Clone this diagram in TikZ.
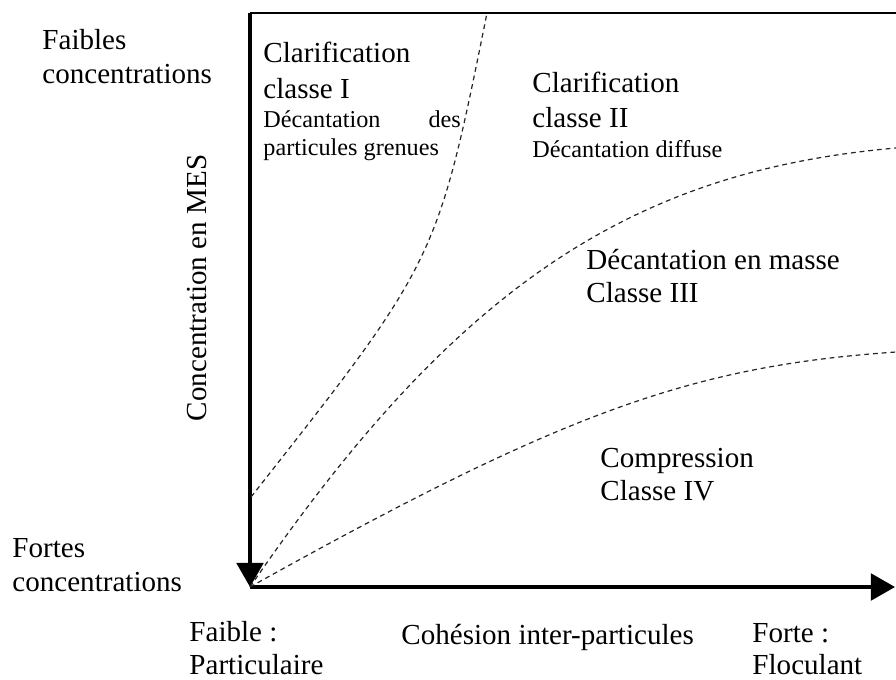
\documentclass[tikz,border=0pt]{standalone}
\usepackage{fontspec}
\setmainfont{Liberation Serif}
\usetikzlibrary{arrows.meta}

\begin{document}
\begin{tikzpicture}[x=0.413pt, y=-0.413pt, >={Triangle[width=11pt,length=10pt]}]
\tikzset{ zone/.style={align=left, anchor=base west, inner sep=0pt,
                       font=\fontsize{12}{14}\selectfont},
          remark/.style={zone, font=\fontsize{10}{11.2}\selectfont},
          limit/.style={line width=0.5pt, black!85, dash pattern=on 2pt off 1.6pt},
          axis/.style={line width=1.6pt} };
\useasboundingbox (0,0) rectangle (896,679);

\coordinate (O) at (250,587);
\coordinate (T) at (250,13);
\coordinate (TR) at (896,13);
\coordinate (X) at (895,587);
\coordinate (S1) at (251,497);
\coordinate (E1) at (487,13);
\coordinate (E2) at (896,148);
\coordinate (E3) at (896,352);

% axes
\draw[axis, ->] (T) -- (O);
\draw[axis, ->] (O) -- (X);
\draw[line width=0.6pt] (T) -- (TR);

% limits between the zones
\draw[limit] (S1) .. controls (437,261) .. (E1);
\draw[limit] (O) .. controls (457,285) and (633,171) .. (E2);
\draw[limit] (O) .. controls (562,413) and (691,366) .. (E3);

% multi-line texts sit on their last baseline
\node[zone] (faibles) at (42,83) {Faibles\\concentrations};
\node[zone] (fortes) at (12,591) {Fortes\\concentrations};
\node[zone, font=\fontsize{12}{13.4}\selectfont] (faible) at (189,674) {Faible :\\Particulaire};
\node[zone] (cohesion) at (401,644) {Cohésion inter-particules};
\node[zone, font=\fontsize{12}{13}\selectfont] (forte) at (752,674) {Forte :\\Floculant};
\node[rotate=90, inner sep=0pt, font=\fontsize{12}{14}\selectfont] (mes) at (197,288) {Concentration en MES};

\node[zone, font=\fontsize{12}{14.5}\selectfont] (classeI) at (263,98) {Clarification\\classe I};
\node[remark] (grenues) at (263,155) {\hbox to 81.5pt{Décantation\hfill des}\\particules grenues};
\node[zone, font=\fontsize{12}{14.2}\selectfont] (classeII) at (532,127) {Clarification\\classe II};
\node[remark] (diffuse) at (532,157) {Décantation diffuse};
\node[zone, font=\fontsize{12}{13.6}\selectfont] (classeIII) at (586,302) {Décantation en masse\\Classe III};
\node[zone, font=\fontsize{12}{13.6}\selectfont] (classeIV) at (600,500) {Compression\\Classe IV};

\end{tikzpicture}
\end{document}
